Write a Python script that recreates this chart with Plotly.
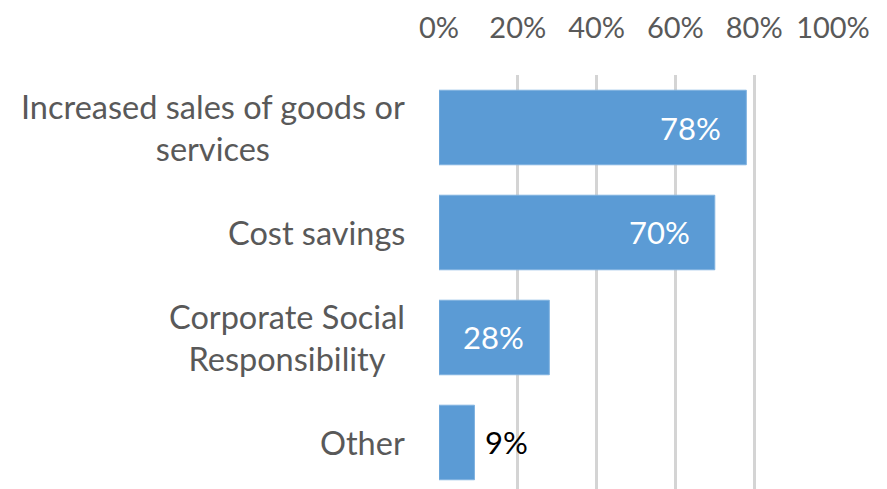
import plotly.graph_objects as go

categories = ["Increased sales of goods or<br>services", "Cost savings",
              "Corporate Social<br>Responsibility", "Other"]
values = [78, 70, 28, 9]
value_labels = ["78%", "70%", "28%", "9%"]
tick_vals = [0, 20, 40, 60, 80, 100]
tick_text = ["0%", "20%", "40%", "60%", "80%", "100%"]

FONT = "Lato"
GREY = "#595959"

fig = go.Figure(go.Bar(
    y=list(range(len(categories))), x=values, orientation="h",
    marker=dict(color="#5B9BD5", line=dict(color="#7FB2E0", width=1)),
    width=0.71, hoverinfo="skip",
))

ann = []
for i, (c, v, t) in enumerate(zip(categories, values, value_labels)):
    ann.append(dict(x=0, xref="paper", y=i, yref="y", text=c, showarrow=False,
                    xanchor="right", yanchor="middle", align="center", xshift=-32,
                    font=dict(family=FONT, size=32.5, color=GREY)))
    inside = v > 15
    ann.append(dict(x=v, xref="x", y=i, yref="y", text=t, showarrow=False,
                    xanchor="right" if inside else "left", yanchor="middle",
                    xshift=-23 if inside else 9,
                    font=dict(family=FONT, size=31, color="white" if inside else "black")))

fig.update_layout(
    width=887, height=489,
    margin=dict(l=431, r=62, t=67, b=8, autoexpand=False),
    paper_bgcolor="white", plot_bgcolor="white",
    showlegend=False,
    annotations=ann,
    xaxis=dict(side="top", range=[0, 100], tickvals=tick_vals, ticktext=tick_text,
               showgrid=True, gridcolor="#D4D4D4", gridwidth=2.5, zeroline=False,
               showline=False, ticks="", ticklabelstandoff=30, automargin=False,
               tickfont=dict(family=FONT, size=29, color=GREY), fixedrange=True),
    yaxis=dict(range=[3.443, -0.5], showticklabels=False, showgrid=False,
               zeroline=False, showline=False, fixedrange=True, automargin=False),
)

fig.write_html("out.html")
